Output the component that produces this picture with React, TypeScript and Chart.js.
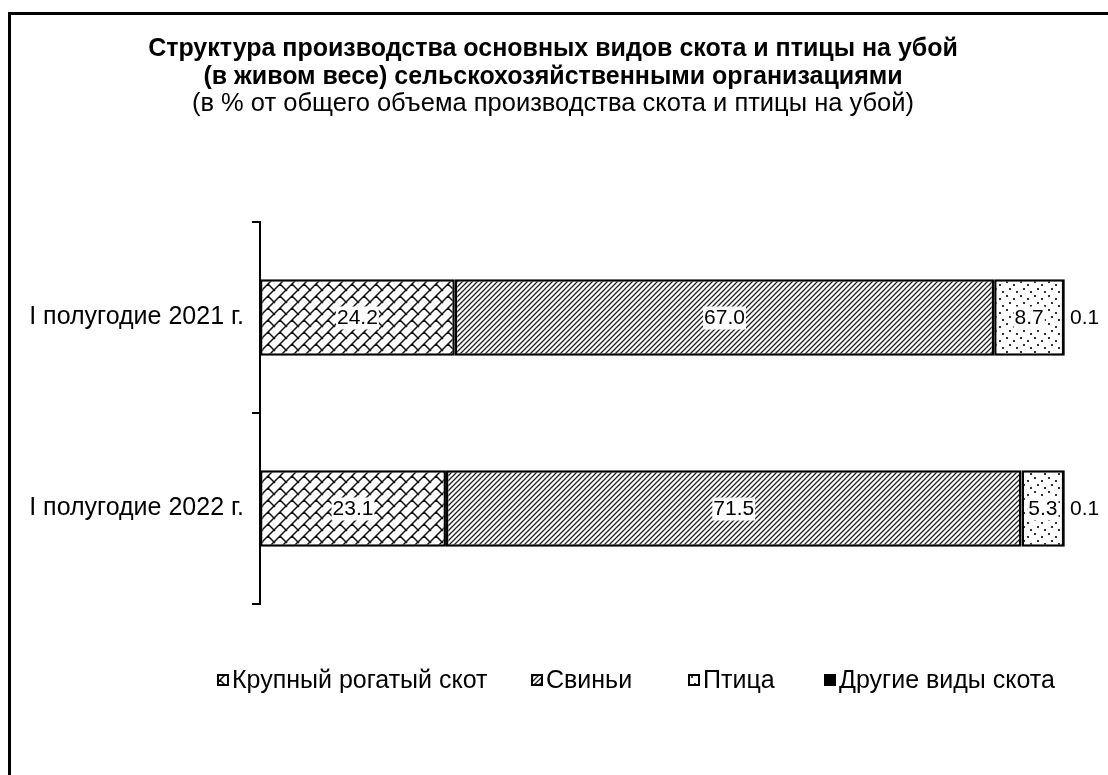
import React, { useEffect, useRef } from "react";
import { Chart, registerables } from "chart.js";

Chart.register(...registerables);

const categories = ["I полугодие 2021 г.", "I полугодие 2022 г."];
const seriesNames = ["Крупный рогатый скот", "Свиньи", "Птица", "Другие виды скота"];
const cattle = [24.2, 23.1];
const pigs = [67.0, 71.5];
const poultry = [8.7, 5.3];
const other = [0.1, 0.1];
const titleLines = [
  "Структура производства основных видов скота и птицы на убой",
  "(в живом весе) сельскохозяйственными организациями",
];
const subtitleText = "(в % от общего объема производства скота и птицы на убой)";

const FONT = "'Liberation Sans', Arial, sans-serif";

function makeBrick(): CanvasPattern | string {
  const s = 12;
  const h = s / 2;
  const c = document.createElement("canvas");
  c.width = s;
  c.height = s;
  const g = c.getContext("2d");
  if (!g) return "#fff";
  g.fillStyle = "#fff";
  g.fillRect(0, 0, s, s);
  g.strokeStyle = "#111";
  g.lineWidth = 1.5;
  g.beginPath();
  g.moveTo(-2, s + 2);
  g.lineTo(s + 2, -2);
  g.moveTo(-2, 2);
  g.lineTo(2, -2);
  g.moveTo(s - 2, s + 2);
  g.lineTo(s + 2, s - 2);
  g.moveTo(h, h);
  g.lineTo(s + 1, s + 1);
  g.moveTo(-1, -1);
  g.lineTo(1, 1);
  g.stroke();
  return g.createPattern(c, "repeat") || "#fff";
}

function makeStripes(): CanvasPattern | string {
  const s = 5;
  const c = document.createElement("canvas");
  c.width = s;
  c.height = s;
  const g = c.getContext("2d");
  if (!g) return "#888";
  g.fillStyle = "#fff";
  g.fillRect(0, 0, s, s);
  g.strokeStyle = "#222";
  g.lineWidth = 1.3;
  g.beginPath();
  g.moveTo(-1, s + 1);
  g.lineTo(s + 1, -1);
  g.moveTo(-1, 1);
  g.lineTo(1, -1);
  g.moveTo(s - 1, s + 1);
  g.lineTo(s + 1, s - 1);
  g.stroke();
  return g.createPattern(c, "repeat") || "#888";
}

function makeDots(): CanvasPattern | string {
  const s = 14;
  const c = document.createElement("canvas");
  c.width = s;
  c.height = s;
  const g = c.getContext("2d");
  if (!g) return "#eee";
  g.fillStyle = "#fff";
  g.fillRect(0, 0, s, s);
  g.fillStyle = "#333";
  const pts = [
    [2, 1],
    [9, 4],
    [5, 8],
    [12, 11],
  ];
  pts.forEach(([x, y]) => g.fillRect(x, y, 2, 2));
  return g.createPattern(c, "repeat") || "#eee";
}

const titlePlugin = {
  id: "customTitle",
  afterDraw(chart: any) {
    const ctx = chart.ctx;
    const cx = 543;
    ctx.save();
    ctx.fillStyle = "#000";
    ctx.textAlign = "center";
    ctx.textBaseline = "middle";
    ctx.font = `bold 25px ${FONT}`;
    ctx.fillText(titleLines[0], cx, 35);
    ctx.fillText(titleLines[1], cx, 63);
    ctx.font = `25.5px ${FONT}`;
    ctx.fillText(subtitleText, cx, 90);
    ctx.restore();
  },
};

const labelPlugin = {
  id: "barLabels",
  afterDatasetsDraw(chart: any) {
    const ctx = chart.ctx;
    ctx.save();
    ctx.font = `21px ${FONT}`;
    ctx.textBaseline = "middle";
    chart.data.datasets.forEach((ds: any, i: number) => {
      const meta = chart.getDatasetMeta(i);
      meta.data.forEach((bar: any, j: number) => {
        const v = ds.data[j] as number;
        const txt = v.toFixed(1);
        const p = bar.getProps(["x", "y", "base"], true);
        const w = ctx.measureText(txt).width;
        if (i < 3) {
          const cx = (p.x + p.base) / 2;
          ctx.fillStyle = "#fff";
          ctx.fillRect(cx - w / 2 - 1, p.y - 11, w + 2, 23);
          ctx.fillStyle = "#000";
          ctx.textAlign = "center";
          ctx.fillText(txt, cx, p.y + 1);
        } else {
          ctx.fillStyle = "#000";
          ctx.textAlign = "left";
          ctx.fillText(txt, p.x + 5, p.y + 1);
        }
      });
    });
    ctx.restore();
  },
};

const legendX = [207, 521, 678, 814];

const legendPlugin = {
  id: "customLegend",
  afterDraw(chart: any) {
    const ctx = chart.ctx;
    const y = 666;
    ctx.save();
    ctx.font = `25px ${FONT}`;
    ctx.textBaseline = "middle";
    ctx.textAlign = "left";
    chart.data.datasets.forEach((ds: any, i: number) => {
      const x = legendX[i];
      ctx.fillStyle = ds.backgroundColor;
      ctx.fillRect(x, y - 6, 12, 12);
      ctx.strokeStyle = "#000";
      ctx.lineWidth = 2;
      ctx.strokeRect(x + 1, y - 5, 10, 10);
      ctx.fillStyle = "#000";
      ctx.fillText(ds.label, x + 15, y + 1);
    });
    ctx.restore();
  },
};

export default function App() {
  const ref = useRef<HTMLCanvasElement | null>(null);
  useEffect(() => {
    if (!ref.current) return;
    const fills = [makeBrick(), makeStripes(), makeDots(), "#000"];
    const values = [cattle, pigs, poultry, other];
    const chart = new Chart(ref.current, {
      type: "bar",
      data: {
        labels: categories,
        datasets: values.map((d, i) => ({
          label: seriesNames[i],
          data: d,
          backgroundColor: fills[i] as any,
          borderColor: "#000",
          borderWidth: 2.5,
          borderSkipped: false,
          barPercentage: 1,
          categoryPercentage: 0.4,
        })),
      },
      options: {
        indexAxis: "y",
        responsive: false,
        animation: false,
        events: [],
        layout: { padding: { top: 208, bottom: 171, left: 0, right: 43 } },
        plugins: {
          legend: { display: false },
          title: { display: false },
          tooltip: { enabled: false },
        },
        scales: {
          x: { stacked: true, min: 0, max: 100, display: false },
          y: {
            stacked: true,
            afterFit: (s: any) => {
              s.width = 250;
            },
            border: { display: true, color: "#000", width: 2 },
            grid: {
              display: true,
              offset: true,
              drawOnChartArea: false,
              drawTicks: true,
              tickLength: 8,
              color: "#000",
              lineWidth: 2,
            },
            ticks: {
              color: "#000",
              padding: 8,
              font: { family: FONT, size: 25 },
            },
          },
        },
      },
      plugins: [titlePlugin, labelPlugin, legendPlugin],
    });
    return () => chart.destroy();
  }, []);

  return (
    <div>
      <div
        style={{
          position: "fixed",
          left: 8,
          top: 12,
          width: 1100,
          height: 763,
          borderLeft: "3px solid #000",
          borderTop: "3px solid #000",
          boxSizing: "border-box",
        }}
      />
      <canvas
        ref={ref}
        width={1098}
        height={761}
        style={{ position: "fixed", left: 10, top: 14, width: 1098, height: 761 }}
      />
    </div>
  );
}
